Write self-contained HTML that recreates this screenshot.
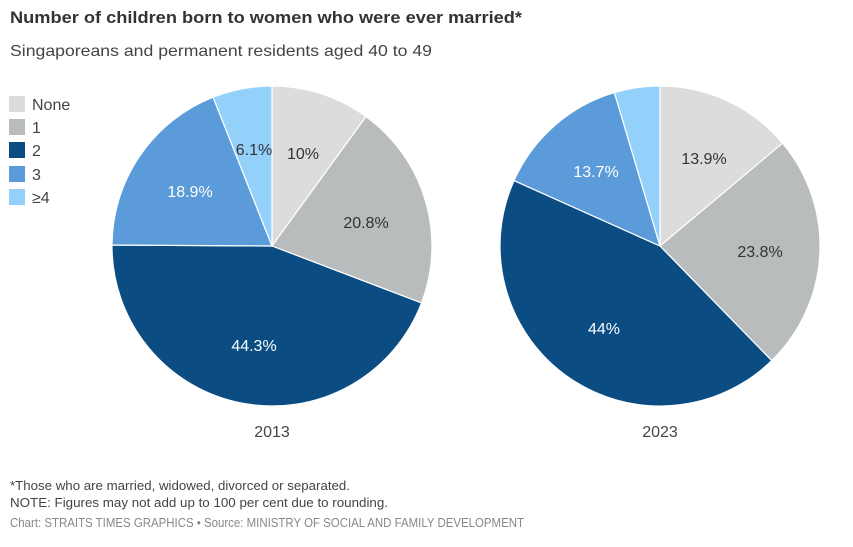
<!DOCTYPE html>
<html><head><meta charset="utf-8"><style>
html,body{margin:0;padding:0;background:#fff;}
svg{display:block;font-family:"Liberation Sans",sans-serif;}
</style></head><body>
<svg width="853" height="547" viewBox="0 0 853 547">
<text x="10" y="23" font-size="17" font-weight="bold" fill="#333" textLength="512" lengthAdjust="spacingAndGlyphs">Number of children born to women who were ever married*</text>
<text x="10" y="56" font-size="16" fill="#444" textLength="422" lengthAdjust="spacingAndGlyphs">Singaporeans and permanent residents aged 40 to 49</text>

<g font-size="16" fill="#444">
<rect x="9" y="96" width="16" height="16" fill="#dcdcdc"/><text x="32" y="110">None</text>
<rect x="9" y="119" width="16" height="16" fill="#b9bcbd"/><text x="32" y="133">1</text>
<rect x="9" y="142" width="16" height="16" fill="#0b4d82"/><text x="32" y="156">2</text>
<rect x="9" y="166" width="16" height="16" fill="#5b9bd9"/><text x="32" y="180">3</text>
<rect x="9" y="189" width="16" height="16" fill="#93d1fb"/><text x="32" y="203">≥4</text>
</g>

<g stroke="#fff" stroke-width="1.2">
<path d="M272,246 L272,86 A160,160 0 0 1 366.0,116.6 Z" fill="#dcdcdc"/>
<path d="M272,246 L366.0,116.6 A160,160 0 0 1 421.5,303.0 Z" fill="#b9bcbd"/>
<path d="M272,246 L421.5,303.0 A160,160 0 0 1 112.0,245.0 Z" fill="#0b4d82"/>
<path d="M272,246 L112.0,245.0 A160,160 0 0 1 213.1,97.2 Z" fill="#5b9bd9"/>
<path d="M272,246 L213.1,97.2 A160,160 0 0 1 272,86 Z" fill="#93d1fb"/>

<path d="M660,246 L660,86 A160,160 0 0 1 782.6,143.2 Z" fill="#dcdcdc"/>
<path d="M660,246 L782.6,143.2 A160,160 0 0 1 771.7,360.6 Z" fill="#b9bcbd"/>
<path d="M660,246 L771.7,360.6 A160,160 0 0 1 514.0,180.6 Z" fill="#0b4d82"/>
<path d="M660,246 L514.0,180.6 A160,160 0 0 1 614.4,92.6 Z" fill="#5b9bd9"/>
<path d="M660,246 L614.4,92.6 A160,160 0 0 1 660,86 Z" fill="#93d1fb"/>
</g>

<g font-size="16" text-anchor="middle">
<text x="303" y="159" fill="#333">10%</text>
<text x="254" y="155" fill="#333">6.1%</text>
<text x="190" y="197" fill="#fff">18.9%</text>
<text x="366" y="228" fill="#333">20.8%</text>
<text x="254" y="351" fill="#fff">44.3%</text>
<text x="704" y="164" fill="#333">13.9%</text>
<text x="596" y="177" fill="#fff">13.7%</text>
<text x="760" y="257" fill="#333">23.8%</text>
<text x="604" y="334" fill="#fff">44%</text>
<text x="272" y="437" fill="#444">2013</text>
<text x="660" y="437" fill="#444">2023</text>
</g>

<text x="10" y="490" font-size="13" fill="#444" textLength="340" lengthAdjust="spacingAndGlyphs">*Those who are married, widowed, divorced or separated.</text>
<text x="10" y="507" font-size="13" fill="#444" textLength="378" lengthAdjust="spacingAndGlyphs">NOTE: Figures may not add up to 100 per cent due to rounding.</text>
<text x="10" y="527" font-size="13" fill="#888" textLength="514" lengthAdjust="spacingAndGlyphs">Chart: STRAITS TIMES GRAPHICS • Source: MINISTRY OF SOCIAL AND FAMILY DEVELOPMENT</text>
</svg>
</body></html>
